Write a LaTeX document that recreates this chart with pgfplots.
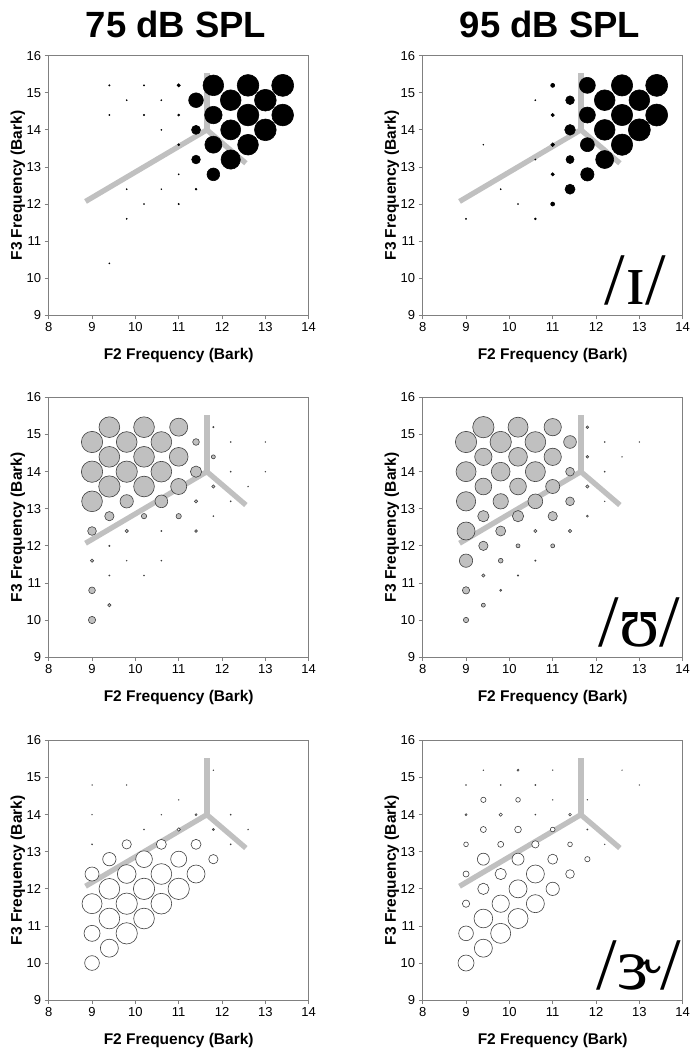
\documentclass[border=0pt]{standalone}
\usepackage{fontspec}
\setmainfont{Liberation Sans}
\newfontfamily\ipafont{Liberation Serif}
\usepackage{pgfplots}
\usepackage{pgfplotstable}
\pgfplotsset{compat=1.18}

\definecolor{vline}{HTML}{C0C0C0}
\definecolor{bubgray}{HTML}{C0C0C0}
\definecolor{frame}{HTML}{808080}

% columns: F2 (Bark), F3 (Bark), bubble diameter (px)
\pgfplotstableread{
x y d
9.4 15.2 1.3
10.2 15.2 1.3
11.0 15.2 3.3
11.8 15.2 20.7
12.6 15.2 21.7
13.4 15.2 22
9.8 14.8 1
10.6 14.8 1
11.4 14.8 14.7
12.2 14.8 20.7
13.0 14.8 21.7
9.4 14.4 1
10.2 14.4 1.3
11.0 14.4 2
11.8 14.4 17.5
12.6 14.4 21.7
13.4 14.4 21.7
10.6 14.0 1
11.4 14.0 9
12.2 14.0 20
13.0 14.0 21.7
11.0 13.6 2
11.8 13.6 17
12.6 13.6 20.7
11.4 13.2 8.7
12.2 13.2 19.3
11.0 12.8 1
11.8 12.8 12.7
9.8 12.4 1
10.6 12.4 0.8
11.4 12.4 1.7
10.2 12.0 1
11.0 12.0 1.3
9.8 11.6 1
9.4 10.4 1
}\tabA

\pgfplotstableread{
x y d
11.0 15.2 4
11.8 15.2 16
12.6 15.2 21.3
13.4 15.2 22
10.6 14.8 1
11.4 14.8 8.7
12.2 14.8 20.7
13.0 14.8 20.7
11.0 14.4 3.3
11.8 14.4 16
12.6 14.4 21.3
13.4 14.4 22
11.4 14.0 10.7
12.2 14.0 20.7
13.0 14.0 22
9.4 13.6 0.8
11.0 13.6 3.7
11.8 13.6 14
12.6 13.6 21.3
10.6 13.2 1
11.4 13.2 8
12.2 13.2 18
11.0 12.8 3.3
11.8 12.8 13.3
9.8 12.4 1
11.4 12.4 10
10.2 12.0 1
11.0 12.0 4
9.0 11.6 1
10.6 11.6 1.7
}\tabB

\pgfplotstableread{
x y d
9.4 15.2 20.7
10.2 15.2 20.7
11.0 15.2 18
11.8 15.2 1.3
9.0 14.8 21.3
9.8 14.8 20.7
10.6 14.8 20.7
11.4 14.8 6.7
12.2 14.8 1
13.0 14.8 0.7
9.4 14.4 20.7
10.2 14.4 20.7
11.0 14.4 18.7
11.8 14.4 4
9.0 14.0 21.3
9.8 14.0 21.3
10.6 14.0 20.7
11.4 14.0 11.3
12.2 14.0 1
13.0 14.0 0.7
9.4 13.6 21.3
10.2 13.6 20.7
11.0 13.6 16
11.8 13.6 3.3
12.6 13.6 0.7
9.0 13.2 20.7
9.8 13.2 13.3
10.6 13.2 12.7
11.4 13.2 3.3
12.2 13.2 1
9.4 12.8 9.3
10.2 12.8 5.3
11.0 12.8 5.3
11.8 12.8 1
9.0 12.4 8.7
9.8 12.4 3.3
10.6 12.4 1
11.4 12.4 2.7
9.4 12.0 1.3
9.0 11.6 3.3
9.8 11.6 0.7
10.6 11.6 1
9.4 11.2 1
10.2 11.2 1
9.0 10.8 6.7
9.4 10.4 3.3
9.0 10.0 7.3
}\tabC

\pgfplotstableread{
x y d
9.4 15.2 21.3
10.2 15.2 20
11.0 15.2 17.3
11.8 15.2 2.7
9.0 14.8 21.3
9.8 14.8 21.3
10.6 14.8 20.7
11.4 14.8 12.7
12.2 14.8 1
13.0 14.8 0.7
9.4 14.4 17.3
10.2 14.4 18.7
11.0 14.4 17.3
11.8 14.4 2.7
12.6 14.4 0.7
9.0 14.0 20
9.8 14.0 18.7
10.6 14.0 20
11.4 14.0 8.7
12.2 14.0 1
9.4 13.6 16.7
10.2 13.6 16.7
11.0 13.6 14
11.8 13.6 3.3
9.0 13.2 19.3
9.8 13.2 15.3
10.6 13.2 14.7
11.4 13.2 8.7
12.2 13.2 0.7
9.4 12.8 11.3
10.2 12.8 11.3
11.0 12.8 9.3
11.8 12.8 2
9.0 12.4 18
9.8 12.4 10
10.6 12.4 3.3
11.4 12.4 3.3
9.4 12.0 9.3
10.2 12.0 4
11.0 12.0 4
9.0 11.6 13.3
9.8 11.6 4.7
10.6 11.6 1.3
9.4 11.2 3.3
10.2 11.2 1.3
9.0 10.8 7.3
9.8 10.8 2
9.4 10.4 4
9.0 10.0 5.3
}\tabD

\pgfplotstableread{
x y d
11.8 15.2 0.7
9.0 14.8 0.7
9.8 14.8 0.7
11.0 14.4 0.7
9.0 14.0 0.7
10.6 14.0 0.7
11.4 14.0 2
12.2 14.0 1
10.2 13.6 1
11.0 13.6 3.3
11.8 13.6 2
12.6 13.6 0.7
9.0 13.2 1
9.8 13.2 9.3
10.6 13.2 10
11.4 13.2 10
12.2 13.2 1
9.4 12.8 13.3
10.2 12.8 16.7
11.0 12.8 16
11.8 12.8 9.3
9.0 12.4 14
9.8 12.4 18.7
10.6 12.4 20.7
11.4 12.4 18
9.4 12.0 20.7
10.2 12.0 21.3
11.0 12.0 21.3
9.0 11.6 20
9.8 11.6 21.3
10.6 11.6 20.7
9.4 11.2 20.7
10.2 11.2 20.7
9.0 10.8 16
9.8 10.8 21.3
9.4 10.4 18
9.0 10.0 14.7
}\tabE

\pgfplotstableread{
x y d
9.4 15.2 0.7
10.2 15.2 2
11.0 15.2 0.7
12.6 15.2 0.5
9.0 14.8 1
9.8 14.8 1
10.6 14.8 1
13.0 14.8 0.5
9.4 14.4 5.3
10.2 14.4 4.7
11.0 14.4 0.7
11.8 14.4 0.7
9.0 14.0 2
9.8 14.0 3.3
10.6 14.0 1
11.4 14.0 2.7
9.4 13.6 6
10.2 13.6 6.7
11.0 13.6 4.7
11.8 13.6 1
9.0 13.2 4.7
9.8 13.2 6
10.6 13.2 7.3
11.4 13.2 4.7
12.2 13.2 0.7
9.4 12.8 12
10.2 12.8 12
11.0 12.8 10
11.8 12.8 5.3
9.0 12.4 6
9.8 12.4 11.3
10.6 12.4 18
11.4 12.4 8.7
9.4 12.0 11.3
10.2 12.0 18
11.0 12.0 13.3
9.0 11.6 7.3
9.8 11.6 17.3
10.6 11.6 18
9.4 11.2 18.7
10.2 11.2 20
9.0 10.8 14.7
9.8 10.8 20
9.4 10.4 18
9.0 10.0 16
}\tabF

\pgfplotsset{
  panel/.style={
    scale only axis, width=260pt, height=259.6pt,
    anchor=south west, clip=false,
    xmin=8, xmax=14, ymin=9, ymax=16,
    xtick={8,...,14}, ytick={9,...,16},
    tick align=outside, tick pos=left,
    major tick length=4pt,
    axis line style={draw=frame, line width=0.8pt},
    tick style={draw=frame, line width=0.8pt},
    /pgf/number format/assume math mode=true,
    tick label style={font=\fontsize{13}{13}\selectfont},
    xlabel={F2 Frequency (Bark)}, ylabel={F3 Frequency (Bark)},
    label style={font=\fontsize{15.5}{15.5}\selectfont\bfseries},
    xlabel style={at={(axis description cs:0.5,0)}, anchor=center, yshift=-40pt},
    ylabel style={at={(axis description cs:-0.119,0.5)}, anchor=center},
  },
  vowel/.style={no marks, draw=vline, line width=5.3pt, line join=miter},
  bub/.style 2 args={
    scatter, only marks, mark=*,
    scatter/use mapped color={draw=#1, fill=#2},
    visualization depends on={0.5*\thisrow{d} \as \rr},
    scatter/@pre marker code/.append style={/tikz/mark size=\rr},
    mark options={line width=0.6pt},
  },
}

\newcommand{\vowelV}{%
  \addplot[vowel] coordinates {(8.85,12.07) (11.65,14.0) (12.55,13.1)};
  \addplot[vowel] coordinates {(11.65,14.0) (11.65,15.52)};
}

\begin{document}
\begin{tikzpicture}
\path[use as bounding box] (0,0) rectangle (700pt,1050pt);

\node[font=\fontsize{36.5}{36.5}\selectfont\bfseries, anchor=base] at (176pt,1012.7pt) {75 dB SPL};
\node[font=\fontsize{36.5}{36.5}\selectfont\bfseries, anchor=base] at (550pt,1012.7pt) {95 dB SPL};

% row 1: /I/
\begin{axis}[panel, at={(48.7pt,734.7pt)}]
  \vowelV
  \addplot[bub={black}{black}] table[x=x, y=y] {\tabA};
\end{axis}
\begin{axis}[panel, at={(422.7pt,734.7pt)}]
  \vowelV
  \addplot[bub={black}{black}] table[x=x, y=y] {\tabB};
  \node[anchor=base west, font=\fontsize{74}{74}\selectfont\ipafont] at (axis cs:12.12,9.28) {/ɪ/};
\end{axis}

% row 2: /U/
\begin{axis}[panel, at={(48.7pt,392.9pt)}]
  \vowelV
  \addplot[bub={black!75}{bubgray}] table[x=x, y=y] {\tabC};
\end{axis}
\begin{axis}[panel, at={(422.7pt,392.9pt)}]
  \vowelV
  \addplot[bub={black!75}{bubgray}] table[x=x, y=y] {\tabD};
  \node[anchor=base west, font=\fontsize{74}{74}\selectfont\ipafont] at (axis cs:11.98,9.28) {/ʊ/};
\end{axis}

% row 3: /3r/
\begin{axis}[panel, at={(48.7pt,49.9pt)}]
  \vowelV
  \addplot[bub={black!75}{white}] table[x=x, y=y] {\tabE};
\end{axis}
\begin{axis}[panel, at={(422.7pt,49.9pt)}]
  \vowelV
  \addplot[bub={black!75}{white}] table[x=x, y=y] {\tabF};
  \node[anchor=base west, font=\fontsize{74}{74}\selectfont\ipafont] at (axis cs:11.93,9.28) {/ɝ/};
\end{axis}
\end{tikzpicture}
\end{document}
